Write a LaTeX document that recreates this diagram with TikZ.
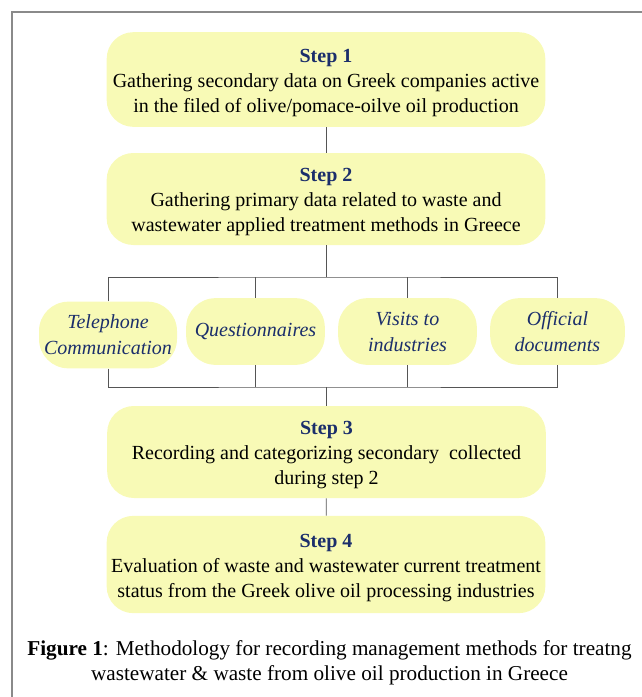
\documentclass[tikz,border=0pt]{standalone}
\usepackage{fontspec}
\setmainfont{Liberation Serif}
\usetikzlibrary{calc}
\definecolor{boxfill}{HTML}{F8FAB6}
\definecolor{stepblue}{HTML}{1B2E6B}
\definecolor{linegray}{HTML}{555555}
\definecolor{framegray}{HTML}{8A8A8A}
\newcommand{\steptitle}[1]{\rule{0pt}{14.6pt}\textbf{\textcolor{stepblue}{Step #1}}}

\begin{document}
\begin{tikzpicture}[x=0.75pt,y=-0.75pt,
		stepbox/.style={fill=boxfill,rounded corners=20pt,align=center,minimum width=329pt,minimum height=70pt,inner sep=0pt,font=\fontsize{15}{18.75}\selectfont},
		methodbox/.style={fill=boxfill,rounded corners=22pt,align=center,minimum width=104pt,minimum height=50pt,inner sep=0pt,text=stepblue,font=\itshape\fontsize{15}{19.5}\selectfont},
		link/.style={draw=linegray,line width=0.6pt}]
			\useasboundingbox (0,0) rectangle (642,697);
			\draw[framegray,line width=1.2pt] (12,697)--(12,12)--(642,12);
			\node[stepbox,minimum height=71pt] (s1) at (326,79.5) {\steptitle{1}\\Gathering secondary data on Greek companies active\\in the filed of olive/pomace-oilve oil production};
			\node[stepbox,minimum height=69pt] (s2) at (326,199) {\steptitle{2}\\Gathering primary data related to waste and\\wastewater applied treatment methods in Greece};
			\node[methodbox,minimum width=103.5pt] (tel) at (108,335) {Telephone\\Communication};
			\node[methodbox] (que) at (255.5,331.5) {Questionnaires};
			\node[methodbox] (vis) at (407.5,331.5) {Visits to\\industries};
			\node[methodbox,minimum width=101pt] (off) at (557.5,331.5) {Official\\documents};
			\node[stepbox,minimum height=69pt] (s3) at (326.5,452) {\steptitle{3}\\Recording and categorizing secondary\ \ collected\\during step 2};
			\node[stepbox,minimum height=73pt] (s4) at (326,564.5) {\steptitle{4}\\Evaluation of waste and wastewater current treatment\\status from the Greek olive oil processing industries};
			\coordinate (fork) at (326,277);
			\coordinate (merge) at (326.5,387);
			\draw[link] (s1)--(s2);
			\draw[link] (s2)--(fork);
			\draw[link] (tel.north) |- (fork) -| (off.north);
			\draw[link] (que.north)--(que.north |- fork);
			\draw[link] (vis.north)--(vis.north |- fork);
			\draw[link] (tel.south) |- (merge) -| (off.south);
			\draw[link] (que.south)--(que.south |- merge);
			\draw[link] (vis.south)--(vis.south |- merge);
			\draw[link] (merge)--(s3);
			\draw[link] (s3)--(s4);
			\node[font=\fontsize{15.9}{18.75}\selectfont,align=center] (caption) at (329.5,663) {\textbf{Figure 1}: Methodology for recording management methods for treatng\\wastewater \& waste from olive oil production in Greece};
		\end{tikzpicture}
\end{document}
